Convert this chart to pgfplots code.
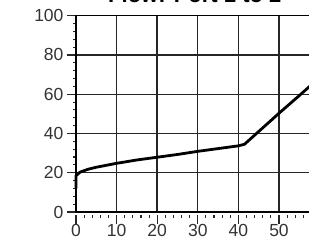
\documentclass[border=0pt]{standalone}
\usepackage{fontspec}
\setmainfont{Liberation Sans}
\usepackage{pgfplots}
\pgfplotsset{compat=1.18}
\begin{document}
\begin{tikzpicture}
\begin{axis}[
  at={(0pt,0pt)}, anchor=south west,
  scale only axis, width=243.6pt, height=196.3pt,
  xmin=0, xmax=60, ymin=0, ymax=100,
  xtick={0,10,...,60}, ytick={0,20,...,100},
  minor x tick num=4, minor y tick num=4,
  tick align=outside, tick pos=left,
  major tick length=9pt, minor tick length=3pt,
  x tick style={yshift=-3pt},
  grid=major, major grid style={black!85, line width=1.4pt},
  axis line style={black, line width=1.4pt},
  tick style={black!85, line width=1.1pt},
  ticklabel style={font=\fontsize{17.5}{20}\selectfont, text=black!80},
  /pgf/number format/assume math mode=true,
  title={Flow: Port 1 to 2},
  title style={at={(0.5,1)}, anchor=base, yshift=6.7pt, xshift=-3pt, font=\fontsize{22}{26}\selectfont\bfseries},
  clip=false,
]
\addplot[black, line width=2.8pt, line join=round] coordinates {(0,12)(0,18.5)(1,20.3)(3,21.8)(5,22.8)(10,24.8)(15,26.5)(20,27.9)(25,29.3)(30,30.9)(35,32.3)(40,33.7)(41.5,34.5)(45,41)(50,50.3)(55,59.3)(60,68.5)};
\end{axis}
\pgfresetboundingbox
\path[use as bounding box] (-76pt,-33pt) rectangle (233pt,212pt);
\end{tikzpicture}
\end{document}
